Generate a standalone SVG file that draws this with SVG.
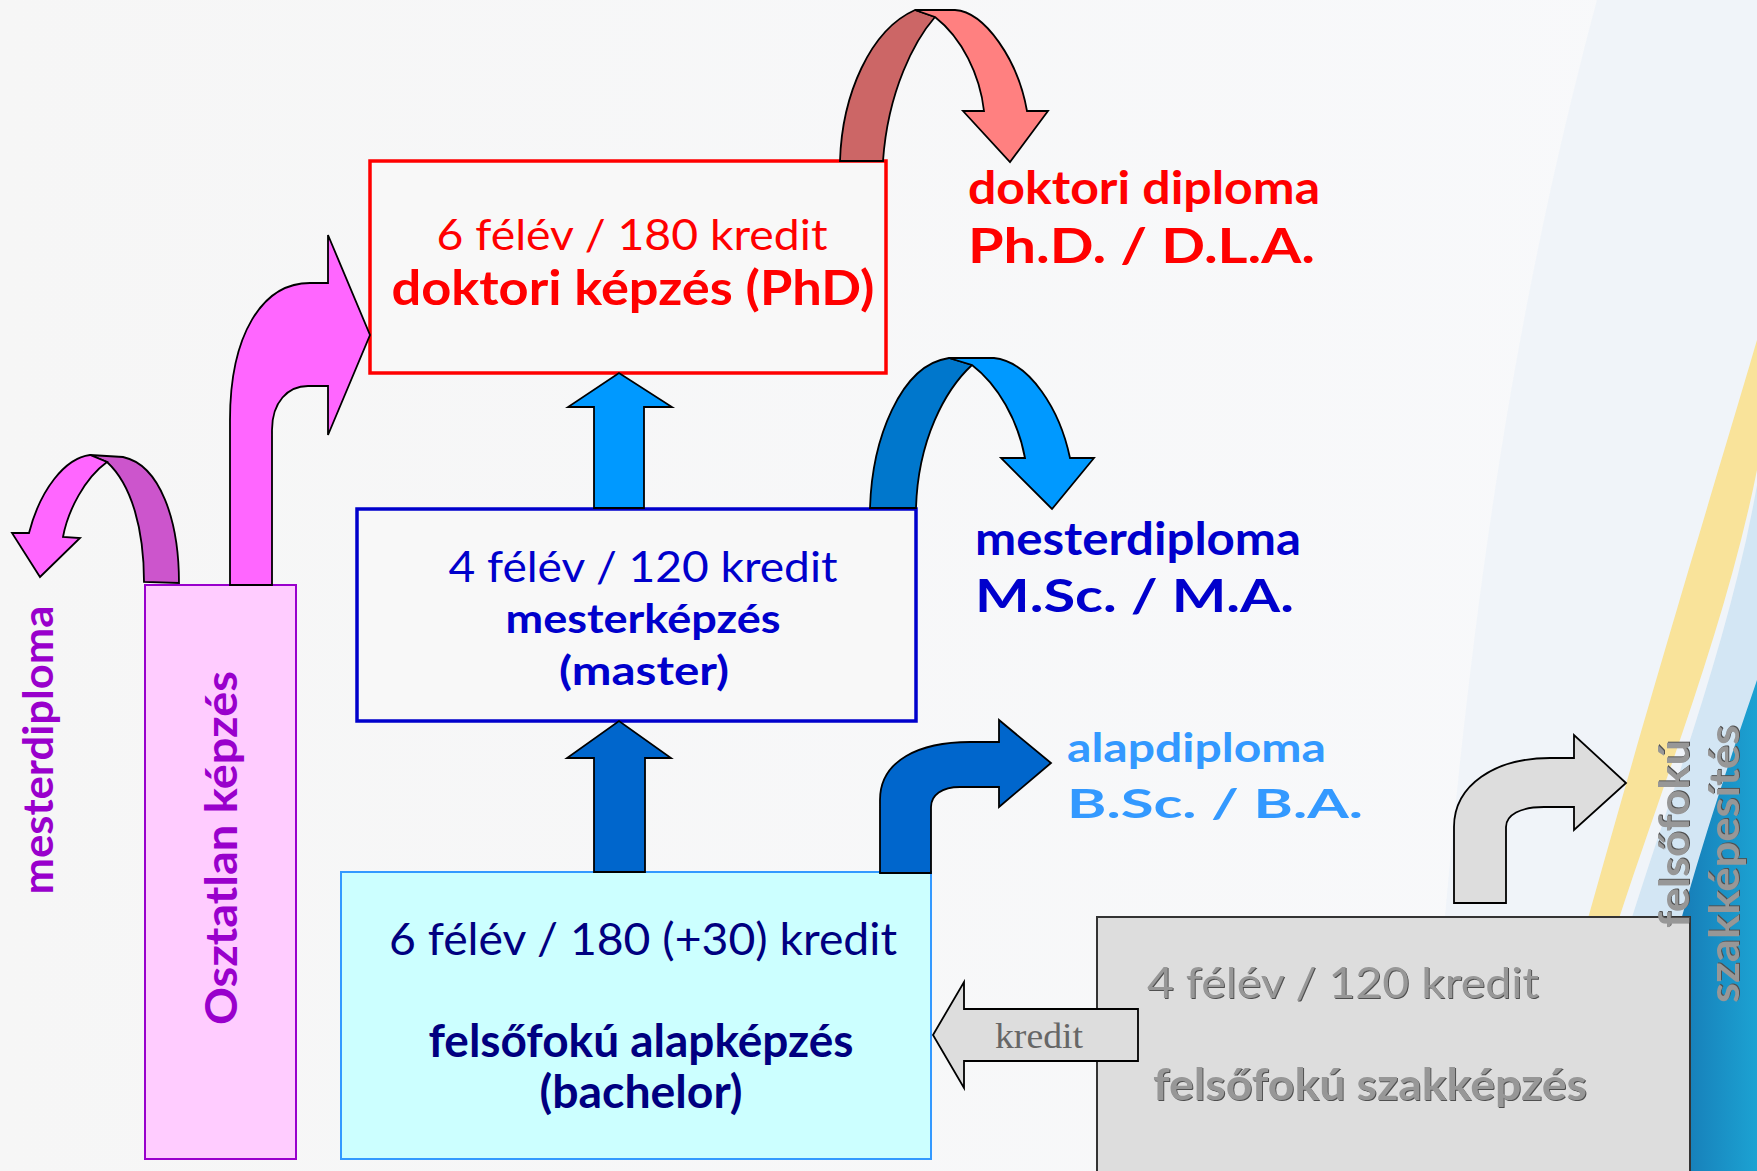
<svg xmlns="http://www.w3.org/2000/svg" width="1757" height="1171" viewBox="0 0 1757 1171">
<defs>
<linearGradient id="bgGrad" x1="0" y1="0" x2="1" y2="0">
<stop offset="0" stop-color="#F6F6F6"/><stop offset="1" stop-color="#F8F9FB"/>
</linearGradient>
<linearGradient id="darkBlue" x1="0" y1="0" x2="1" y2="0">
<stop offset="0" stop-color="#1572B0"/><stop offset="1" stop-color="#1CA2D2"/>
</linearGradient>
<filter id="emb" x="-5%" y="-20%" width="110%" height="140%">
<feGaussianBlur in="SourceAlpha" stdDeviation="0.6"/>
<feOffset dx="1.3" dy="1.3" result="o"/>
<feFlood flood-color="#505050"/>
<feComposite in2="o" operator="in" result="s"/>
<feMerge><feMergeNode in="s"/><feMergeNode in="SourceGraphic"/></feMerge>
</filter>
<style>
.t{font-family:Lato,'Open Sans','DejaVu Sans',sans-serif;}
.b{font-weight:700;}
.mid{text-anchor:middle;}
.red{fill:#FF0000;}
.blue{fill:#0000CC;}
.navy{fill:#000080;}
.lblue{fill:#3399FF;}
.purple{fill:#9900CC;}
.gray{fill:#979797;}
.arr{stroke:#000;stroke-width:1.8;stroke-linejoin:miter;}
</style>
</defs>

<g id="background">
<rect x="0" y="0" width="1757" height="1171" fill="url(#bgGrad)"/>
<path d="M1597,0 C1530,250 1480,520 1445,917 L1757,917 L1757,0 Z" fill="#EEF3F9" opacity="0.8"/>
<path d="M1757,340 C1725,450 1660,660 1582,940 L1612,940 C1660,790 1725,630 1757,470 Z" fill="#F9E39A"/>
<path d="M1757,485 C1730,640 1668,800 1625,940 L1757,940 Z" fill="#D3E6F4"/>
<path d="M1757,680 C1730,760 1695,860 1660,1000 L1660,1171 L1757,1171 Z" fill="url(#darkBlue)"/>
</g>

<g id="node-osztatlan">
<rect x="145" y="585" width="151" height="574" fill="#FFCCFF" stroke="#9900CC" stroke-width="2"/>
<text class="t b purple mid" x="237" y="848" font-size="44" textLength="354" lengthAdjust="spacingAndGlyphs" transform="rotate(-90 237 848)">Osztatlan képzés</text>
</g>

<g id="node-mesterdiploma-left">
<text class="t b purple mid" x="53" y="750" font-size="42" textLength="289" lengthAdjust="spacingAndGlyphs" transform="rotate(-90 53 750)">mesterdiploma</text>
</g>

<g id="node-doktori">
<rect x="370" y="161" width="516" height="212" fill="#F8F8F8" stroke="#FF0000" stroke-width="3.5"/>
<text class="t red mid" x="632" y="250" font-size="42" textLength="391" lengthAdjust="spacingAndGlyphs">6 félév / 180 kredit</text>
<text class="t b red mid" x="633" y="305" font-size="48" textLength="483" lengthAdjust="spacingAndGlyphs">doktori képzés (PhD)</text>
</g>

<g id="node-master">
<rect x="357" y="509" width="559" height="212" fill="#F8F8F8" stroke="#0000CC" stroke-width="3.5"/>
<text class="t blue mid" x="643" y="582" font-size="42" textLength="389" lengthAdjust="spacingAndGlyphs">4 félév / 120 kredit</text>
<text class="t b blue mid" x="643" y="633" font-size="41" textLength="275" lengthAdjust="spacingAndGlyphs">mesterképzés</text>
<text class="t b blue mid" x="644" y="685" font-size="41" textLength="170" lengthAdjust="spacingAndGlyphs">(master)</text>
</g>

<g id="node-bachelor">
<rect x="341" y="872" width="590" height="287" fill="#CCFFFF" stroke="#3399FF" stroke-width="2"/>
<text class="t navy mid" x="643" y="955" font-size="44" textLength="508" lengthAdjust="spacingAndGlyphs">6 félév / 180 (+30) kredit</text>
<text class="t b navy mid" x="641" y="1057" font-size="46" textLength="425" lengthAdjust="spacingAndGlyphs">felsőfokú alapképzés</text>
<text class="t b navy mid" x="641" y="1108" font-size="46" textLength="203" lengthAdjust="spacingAndGlyphs">(bachelor)</text>
</g>

<g id="node-szakkepzes">
<rect x="1097" y="917" width="593" height="262" fill="#DDDDDD" stroke="#333333" stroke-width="2"/>
<text class="t gray mid" x="1343" y="998" font-size="42" textLength="392" lengthAdjust="spacingAndGlyphs" filter="url(#emb)">4 félév / 120 kredit</text>
<text class="t b gray mid" x="1370" y="1100" font-size="44" textLength="434" lengthAdjust="spacingAndGlyphs" filter="url(#emb)">felsőfokú szakképzés</text>
</g>

<g id="node-doktori-diploma">
<text class="t b red" x="968" y="204" font-size="45" textLength="352" lengthAdjust="spacingAndGlyphs">doktori diploma</text>
<text class="t b red" x="968" y="263" font-size="48" textLength="347" lengthAdjust="spacingAndGlyphs">Ph.D. / D.L.A.</text>
</g>

<g id="node-mesterdiploma">
<text class="t b blue" x="975" y="555" font-size="46" textLength="326" lengthAdjust="spacingAndGlyphs">mesterdiploma</text>
<text class="t b blue" x="975" y="612" font-size="46" textLength="319" lengthAdjust="spacingAndGlyphs">M.Sc. / M.A.</text>
</g>

<g id="node-alapdiploma">
<text class="t b lblue" x="1067" y="762" font-size="40" textLength="259" lengthAdjust="spacingAndGlyphs">alapdiploma</text>
<text class="t b lblue" x="1067" y="818" font-size="40" textLength="296" lengthAdjust="spacingAndGlyphs">B.Sc. / B.A.</text>
</g>

<g id="node-szakkepesites">
<text class="t b gray mid" x="1689" y="834" font-size="42" textLength="188" lengthAdjust="spacingAndGlyphs" transform="rotate(-90 1689 834)" filter="url(#emb)">felsőfokú</text>
<text class="t b gray mid" x="1739" y="864" font-size="42" textLength="278" lengthAdjust="spacingAndGlyphs" transform="rotate(-90 1739 864)" filter="url(#emb)">szakképesítés</text>
</g>

<g id="connectors">
<!-- Osztatlan to doktori -->
<path class="arr" fill="#FF66FF" d="M230,585 L230,420 C230,335 262,283 310,283 L328,283 L328,235 L370,335 L328,435 L328,386 L308,386 C288,386 272,402 272,430 L272,585 Z"/>
<!-- Osztatlan to mesterdiploma (U-turn) -->
<path class="arr" fill="#CC55CC" d="M90,455 L123,457 C160,465 179,520 179,583 L144,582 C144,530 132,485 107,462 Z"/>
<path class="arr" fill="#FF66FF" d="M90,455 C65,458 40,490 29,533 L12,533 L40,577 L80,538 L63,537 C68,510 85,478 107,462 Z"/>
<!-- doktori to doktori diploma -->
<path class="arr" fill="#CC6666" d="M915,10 L935,17 C915,40 888,90 883,161 L840,161 C842,95 870,30 915,10 Z"/>
<path class="arr" fill="#FF8080" d="M915,10 L955,10 C985,12 1018,60 1027,111 L1048,111 L1010,162 L963,111 L984,111 C980,75 962,38 935,17 Z"/>
<!-- master to doktori -->
<path class="arr" fill="#0099FF" d="M594,508 L594,407 L568,407 L619,373 L672,407 L644,407 L644,508 Z"/>
<!-- master to mesterdiploma -->
<path class="arr" fill="#0077CC" d="M949,358 L972,365 C945,390 918,440 916,508 L870,508 C872,440 900,365 949,358 Z"/>
<path class="arr" fill="#0099FF" d="M949,358 L994,358 C1030,362 1060,410 1070,458 L1094,458 L1052,509 L1001,458 L1025,458 C1018,420 998,385 972,365 Z"/>
<!-- bachelor to master -->
<path class="arr" fill="#0066CC" d="M594,872 L594,758 L567,758 L619,721 L671,758 L645,758 L645,872 Z"/>
<!-- bachelor to alapdiploma -->
<path class="arr" fill="#0066CC" d="M880,873 L880,800 C880,760 920,742 970,742 L999,742 L999,720 L1051,763 L999,807 L999,787 L960,787 C942,787 931,795 931,807 L931,873 Z"/>
<!-- szakkepzes to szakkepesites -->
<path class="arr" fill="#DDDDDD" d="M1454,903 L1454,827 C1454,785 1495,758 1550,758 L1574,758 L1574,735 L1626,783 L1574,830 L1574,807 L1544,807 C1520,807 1506,815 1506,827 L1506,903 Z"/>
<!-- szakkepzes to bachelor (kredit) -->
<path class="arr" fill="#DDDDDD" d="M933,1035 L964,982 L964,1009 L1138,1009 L1138,1061 L964,1061 L964,1088 Z"/>
<text x="1039" y="1048" font-family="'Liberation Serif',serif" font-size="36" fill="#666666" text-anchor="middle" textLength="88" lengthAdjust="spacingAndGlyphs">kredit</text>
</g>
</svg>
